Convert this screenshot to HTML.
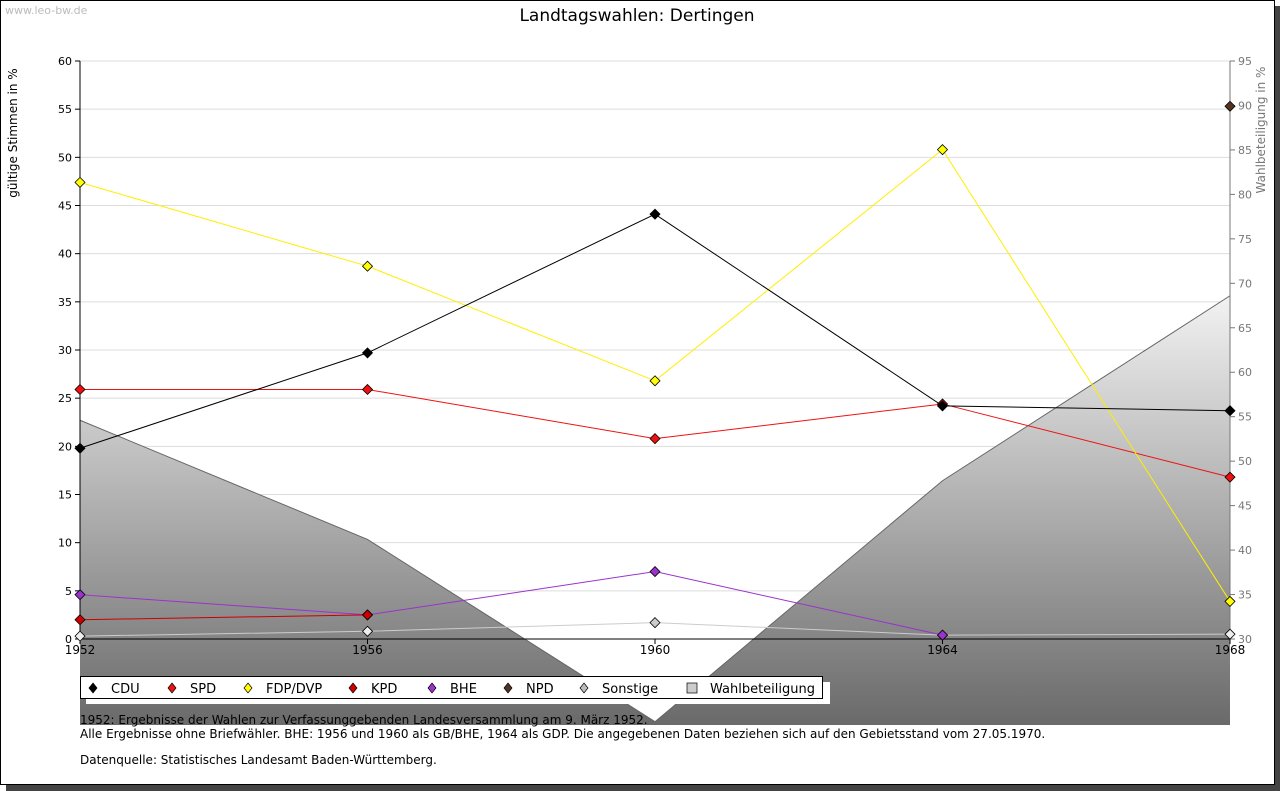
<!DOCTYPE html>
<html><head><meta charset="utf-8"><style>
body{margin:0;background:#fff;width:1280px;height:791px;overflow:hidden;font-family:"DejaVu Sans","Liberation Sans",sans-serif}
</style></head><body>
<svg width="1280" height="791" style="position:absolute;left:0;top:0" font-family="DejaVu Sans, Liberation Sans, sans-serif">
<defs><linearGradient id="g" gradientUnits="userSpaceOnUse" x1="0" y1="296" x2="0" y2="725"><stop offset="0" stop-color="#f2f2f2"/><stop offset="1" stop-color="#6a6a6a"/></linearGradient></defs>
<rect x="1275" y="6" width="5" height="785" fill="#444"/>
<rect x="6" y="785" width="1274" height="6" fill="#444"/>
<rect x="0.5" y="0.5" width="1274" height="784" fill="#fff" stroke="#000"/>
<text x="5" y="14" font-size="11" fill="#bbb">www.leo-bw.de</text>
<text x="637" y="21" font-size="17" text-anchor="middle">Landtagswahlen: Dertingen</text>
<g id="grid"></g><g id="area"></g><g id="axes"></g><g id="series"></g>
<text transform="translate(17,133) rotate(-90)" font-size="12" text-anchor="middle">gültige Stimmen in %</text>
<text transform="translate(1265,130) rotate(-90)" font-size="12" fill="#777" text-anchor="middle">Wahlbeteiligung in %</text>
<g>
<rect x="86" y="682" width="744" height="22" fill="#fff"/>
<rect x="80.5" y="676.5" width="742" height="22" fill="#fff" stroke="#000"/>
<g id="legend" font-size="13"></g>
</g>
<text x="80" y="724" font-size="12">1952: Ergebnisse der Wahlen zur Verfassunggebenden Landesversammlung am 9. März 1952.</text>
<text x="80" y="738" font-size="12">Alle Ergebnisse ohne Briefwähler. BHE: 1956 und 1960 als GB/BHE, 1964 als GDP. Die angegebenen Daten beziehen sich auf den Gebietsstand vom 27.05.1970.</text>
<text x="80" y="764" font-size="12">Datenquelle: Statistisches Landesamt Baden-Württemberg.</text>
</svg>
<script>
const years=[1952,1956,1960,1964,1968];
const leftTicks=[0,5,10,15,20,25,30,35,40,45,50,55,60];
const rightTicks=[30,35,40,45,50,55,60,65,70,75,80,85,90,95];
const turnout=[54.6,41.2,20.7,47.8,68.6];
const cdu=[19.8,29.7,44.1,24.2,23.7];
const spd=[25.9,25.9,20.8,24.4,16.8];
const fdp=[47.4,38.7,26.8,50.8,3.9];
const kpd=[2.0,2.5,null,null,null];
const bhe=[4.6,2.5,7.0,0.4,null];
const npd=[null,null,null,null,55.3];
const sonst=[0.3,0.8,1.7,0.4,0.5];
const NS='http://www.w3.org/2000/svg';
const X=y=>80+(y-1952)/16*1150;
const Y=v=>639-v*578/60;
const Y2=v=>639-(v-30)*578/65;
function el(t,a,p){const e=document.createElementNS(NS,t);for(const k in a)e.setAttribute(k,a[k]);document.getElementById(p).appendChild(e);return e;}
leftTicks.forEach(v=>{
 if(v>0){const l=el('line',{x1:80,x2:1230,y1:Y(v),y2:Y(v),stroke:'#ddd'},'grid');
 
 }
 const tk=el('line',{x1:75,x2:80,y1:Y(v),y2:Y(v),stroke:'#000'},'axes');
 
 
 const t=el('text',{x:72,y:Y(v)+4,'font-size':11,'text-anchor':'end'},'axes');t.textContent=v;
 
 
});
rightTicks.forEach(v=>{
 const tk=el('line',{x1:1230,x2:1235,y1:Y2(v),y2:Y2(v),stroke:'#777'},'axes');
 
 
 const t=el('text',{x:1238,y:Y2(v)+4,'font-size':11,fill:'#777'},'axes');t.textContent=v;
 
 
});
let pts=years.map((y,i)=>X(y)+','+Y2(turnout[i])).join(' ');
const a=el('polygon',{points:'80,725 '+pts+' 1230,725',fill:'url(#g)',stroke:'none'},'area');


const al=el('polyline',{points:pts,fill:'none',stroke:'#666'},'area');


const ax=[['line',{x1:80,x2:80,y1:61,y2:639,stroke:'#000'}],['line',{x1:80,x2:1230,y1:639,y2:639,stroke:'#000'}],['line',{x1:1230,x2:1230,y1:61,y2:639,stroke:'#777'}]];
ax.forEach((d,i)=>{const e=el(d[0],d[1],'axes');
 
 });
years.forEach(y=>{
 const tk=el('line',{x1:X(y),x2:X(y),y1:639,y2:644,stroke:'#000'},'axes');
 
 
 const t=el('text',{x:X(y),y:654,'font-size':12,'text-anchor':'middle'},'axes');t.textContent=y;
 
 
});
const series=[['sonstige',sonst,'#ccc','#ccc'],['bhe',bhe,'#9933cc','#9933cc'],['kpd',kpd,'#cc0000','#cc0000'],['spd',spd,'#ee1111','#ee1111'],['fdp',fdp,'#ffee00','#ffff00'],['cdu',cdu,'#000','#000'],['npd',npd,'#553322','#553322']];
series.forEach(([n,d,c,f])=>{
 const p=[];d.forEach((v,i)=>{if(v!=null)p.push(X(years[i])+','+Y(v));});
 if(p.length>1){const l=el('polyline',{points:p.join(' '),fill:'none',stroke:c,'stroke-width':1},'series');
 
 }
 d.forEach((v,i)=>{if(v==null)return;const x=X(years[i]),y=Y(v);
  const m=el('polygon',{points:`${x},${y-5} ${x+5},${y} ${x},${y+5} ${x-5},${y}`,fill:n=='sonstige'?(i==2?'#ccc':'#eee'):f,stroke:'#000','stroke-width':0.8},'series');
  
  });
});
const leg=[['CDU','#000',93,111],['SPD','#ee1111',172,190],['FDP/DVP','#ffff00',248,266],['KPD','#cc0000',353,371],['BHE','#9933cc',432,450],['NPD','#553322',508,526],['Sonstige','#bbb',584,602],['Wahlbeteiligung',null,692,710]];
leg.forEach(([t,c,x,tx])=>{
 let m;
 if(c)m=el('polygon',{points:`${x},${683} ${x+4},${688} ${x},${693} ${x-4},${688}`,fill:c,stroke:'#000','stroke-width':0.7},'legend');
 else m=el('rect',{x:x-5,y:683,width:10,height:10,fill:'#ccc',stroke:'#000','stroke-width':0.7},'legend');
 
 
 const e=el('text',{x:tx,y:693},'legend');e.textContent=t;
 
 
});
</script>
</body></html>
